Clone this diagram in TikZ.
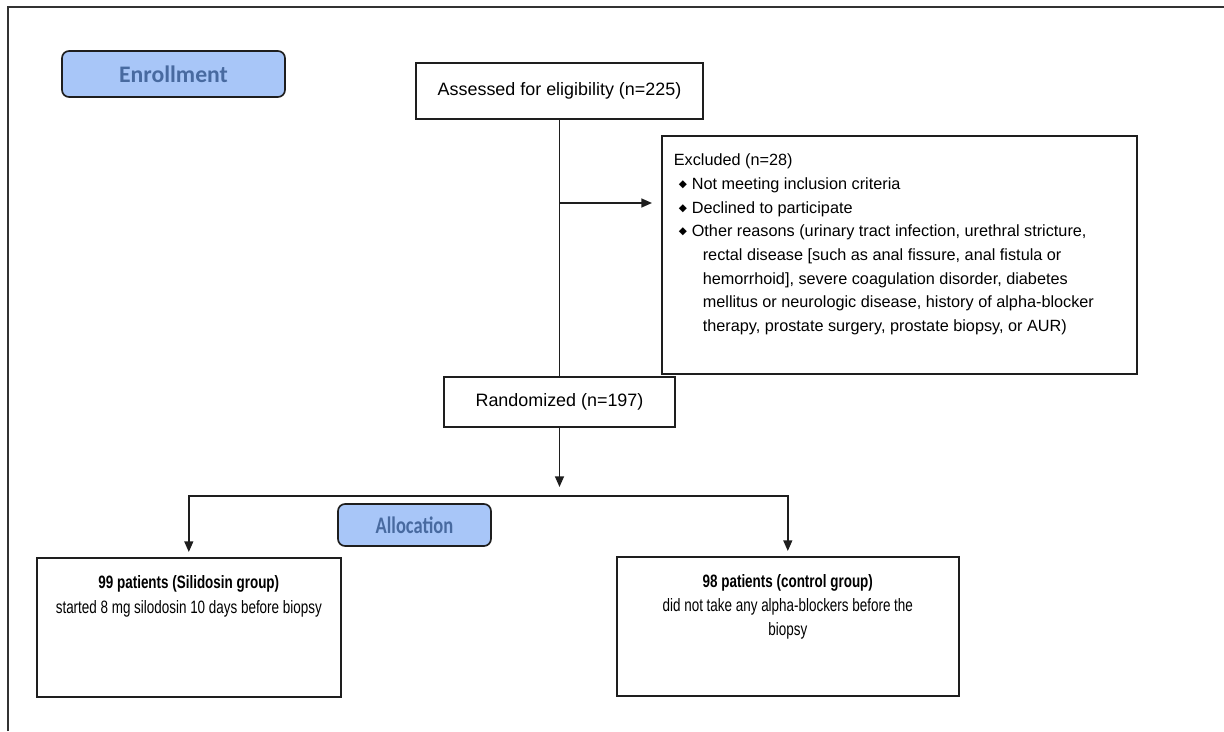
\documentclass[tikz,border=0pt]{standalone}
\usepackage{fontspec}
\setmainfont{Liberation Sans}
\newfontfamily\narrowfont{Liberation Sans}[FakeStretch=0.75]
\newfontfamily\stagefont{Carlito}
\newfontfamily\stagenarrowfont{Carlito}[FakeStretch=0.78]
\newfontfamily\diamfont{DejaVu Sans}
\usepackage{tikz}
\usepackage{xcolor}
\usetikzlibrary{arrows.meta, positioning, calc}
\definecolor{stagefill}{RGB}{168, 198, 248}
\definecolor{stagetext}{RGB}{72, 106, 160}
\definecolor{boxline}{RGB}{30, 30, 30}
\definecolor{frameline}{RGB}{50, 50, 50}
\newcommand{\bul}{\makebox[0.36cm][l]{\hspace*{0.1cm}{\diamfont\fontsize{6}{6}\selectfont\raisebox{0.35ex}{◆}}}}

\begin{document}
\begin{tikzpicture}[x=0.02cm, y=-0.02cm,
    box/.style={draw=boxline, line width=0.95pt, fill=white, inner sep=0pt},
    stage/.style={draw=boxline, line width=0.95pt, fill=stagefill, rounded corners=4pt,
      text=stagetext, inner sep=0pt},
    link/.style={line width=0.95pt, draw=boxline},
    arr/.style={-{Triangle[length=6pt, width=5pt]}, line width=0.95pt, draw=boxline}]
    \useasboundingbox (0,0) rectangle (1224,731);

    % Frame
    \draw[line width=1.2pt, frameline] (8,731) -- (8,7) -- (1224,7);

    % Stage labels
    \node[stage, minimum width=4.46cm, minimum height=0.92cm,
      font=\stagefont\bfseries\fontsize{13.5}{16}\selectfont] (enrol) at (173.5,74) {Enrollment};
    \node[stage, minimum width=3.06cm, minimum height=0.84cm,
      font=\stagenarrowfont\bfseries\fontsize{13.5}{16}\selectfont] (alloc) at (414.5,525) {Allocation};

    % Enrollment boxes
    \node[box, minimum width=5.74cm, minimum height=1.12cm,
      font=\fontsize{10.2}{12}\selectfont] (assess) at (559.5,91) {Assessed for eligibility (n=225)};
    \node[box, anchor=north west, inner xsep=0.24cm, font=\fontsize{9.25}{13.5}\selectfont] (excl) at (661,135)
      {\parbox[c][4.76cm][t]{9.02cm}{\vspace*{0.36cm}%
        Excluded (n=28)\\
        \bul Not meeting inclusion criteria\\
        \bul Declined to participate\\
        \bul Other reasons (urinary tract infection, urethral stricture,\\
        \hspace*{0.58cm}rectal disease [such as anal fissure, anal fistula or\\
        \hspace*{0.58cm}hemorrhoid], severe coagulation disorder, diabetes\\
        \hspace*{0.58cm}mellitus or neurologic disease, history of alpha-blocker\\
        \hspace*{0.58cm}therapy, prostate surgery, prostate biopsy, or AUR)}};
    \node[box, minimum width=4.62cm, minimum height=1.0cm,
      font=\fontsize{10.2}{12}\selectfont] (rand) at (559.5,402) {Randomized (n=197)};

    % Allocation boxes
    \node[box, anchor=north west, font=\narrowfont\fontsize{10.2}{14}\selectfont] (silo) at (36,557)
      {\parbox[c][2.78cm][t]{6.08cm}{\centering\vspace*{0.36cm}%
        \textbf{99 patients (Silidosin group)}\\
        started 8 mg silodosin 10 days before biopsy}};
    \node[box, anchor=north west, font=\narrowfont\fontsize{10.2}{13.6}\selectfont] (ctrl) at (616,556)
      {\parbox[c][2.78cm][t]{6.84cm}{\centering\vspace*{0.35cm}%
        \textbf{98 patients (control group)}\\
        did not take any alpha-blockers before the\\
        biopsy}};

    % Connectors
    \coordinate (split) at (559.5,203);
    \coordinate (fork) at (559.5,496);
    \draw[link] (assess.south) -- (rand.north);
    \draw[arr, shorten >=0.18cm] (split) -- (excl.west |- split);
    \draw[arr, shorten >=0.18cm] (rand.south) -- (fork);
    \draw[arr, shorten >=0.1cm] (fork) -| (silo.north);
    \draw[arr, shorten >=0.1cm] (fork) -| (ctrl.north);
  \end{tikzpicture}
\end{document}
